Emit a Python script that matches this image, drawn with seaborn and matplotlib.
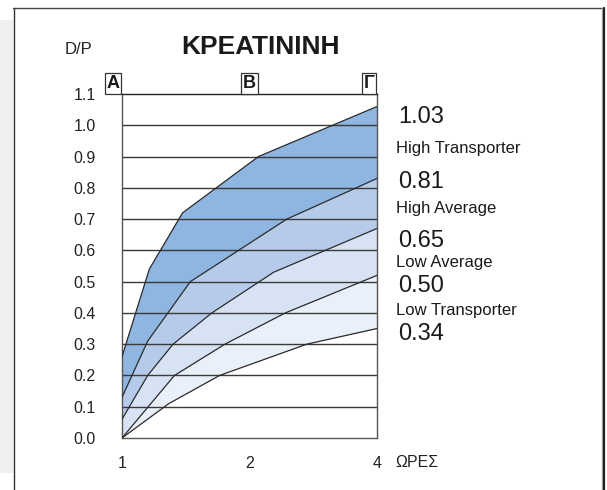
import matplotlib
matplotlib.use('Agg')
import matplotlib.pyplot as plt
import seaborn as sns
import pandas as pd
from matplotlib.lines import Line2D
from matplotlib.patches import Rectangle

# Creatinine D/P curves (hours vs D/P)
hours_high = [1, 1.16, 1.39, 2.10, 4]
dp_high = [0.26, 0.54, 0.72, 0.90, 1.06]
hours_high_avg = [1, 1.15, 1.45, 2.45, 4]
dp_high_avg = [0.13, 0.31, 0.50, 0.70, 0.83]
hours_low_avg = [1, 1.15, 1.32, 1.63, 2.28, 4]
dp_low_avg = [0.06, 0.20, 0.30, 0.40, 0.53, 0.67]
hours_low = [1, 1.33, 1.75, 2.43, 4]
dp_low = [0.0, 0.20, 0.30, 0.40, 0.52]
hours_min = [1, 1.29, 1.70, 2.73, 4]
dp_min = [0.0, 0.11, 0.20, 0.30, 0.35]

band_colors = ['#8fb5e1', '#b5cbe9', '#d7e3f4', '#e9f0f9']
x_ticks = [1, 2, 4]
y_ticks = [0.0, 0.1, 0.2, 0.3, 0.4, 0.5, 0.6, 0.7, 0.8, 0.9, 1.0, 1.1]
top_letters = ['Α', 'Β', 'Γ']
side_values = ['1.03', '0.81', '0.65', '0.50', '0.34']
side_names = ['High Transporter', 'High Average', 'Low Average', 'Low Transporter']

sns.set_theme(style='white')
plt.rcParams['font.family'] = ['Liberation Sans', 'DejaVu Sans']

W, H = 607, 490
fig = plt.figure(figsize=(W / 100, H / 100), dpi=100)
ax = fig.add_axes([122 / W, 52 / H, 255 / W, 344 / H])

curves = [(hours_high, dp_high), (hours_high_avg, dp_high_avg),
          (hours_low_avg, dp_low_avg), (hours_low, dp_low), (hours_min, dp_min)]

# shaded bands between neighbouring curves
for i in range(4):
    hx, hy = curves[i]
    lx, ly = curves[i + 1]
    ax.fill(list(hx) + list(lx)[::-1], list(hy) + list(ly)[::-1],
            color=band_colors[i], lw=0, zorder=1)

for yv in y_ticks[1:-1]:
    ax.axhline(yv, color='#3a3a3a', lw=1.0, zorder=2)

for hx, hy in curves:
    df = pd.DataFrame({'hours': hx, 'dp': hy})
    sns.lineplot(data=df, x='hours', y='dp', ax=ax, color='#2a2a2a', lw=0.9,
                 sort=False, estimator=None, zorder=3)

ax.set_xscale('log', base=2)
ax.set_xlim(1, 4)
ax.set_ylim(0, 1.1)
ax.set_xticks(x_ticks)
ax.set_xticklabels([str(v) for v in x_ticks])
ax.set_yticks(y_ticks)
ax.set_yticklabels([f'{v:.1f}' for v in y_ticks])
ax.minorticks_off()
ax.tick_params(axis='y', length=0, pad=19, labelsize=11.5, labelcolor='#222222')
ax.tick_params(axis='x', length=0, pad=13, labelsize=11.5, labelcolor='#222222')
ax.set_xlabel('')
ax.set_ylabel('')
for s in ax.spines.values():
    s.set_color('#555555')
    s.set_linewidth(1.0)
ax.spines['top'].set_color('#222222')

# boxed letters sitting on the top edge
for xv, letter, ha in zip(x_ticks, top_letters, ['right', 'center', 'right']):
    ax.annotate(letter, xy=(xv, 1.1), xycoords='data',
                xytext=(-1.8 if ha == 'right' else 0, 1.6), textcoords='offset points',
                ha=ha, va='bottom', fontsize=13, fontweight='bold', color='#1a1a1a',
                bbox=dict(boxstyle='square,pad=0.1', fc='white', ec='#333333', lw=0.9),
                annotation_clip=False)

def fy(py):
    return 1 - py / H

fig.text(181 / W, fy(47), 'ΚΡΕΑΤΙΝΙΝΗ', fontsize=19, fontweight='bold',
         color='#1a1a1a', va='center', ha='left')
fig.text(65 / W, fy(50), 'D/P', fontsize=12, color='#222222', va='center', ha='left')
fig.text(395 / W, fy(462), 'ΩΡΕΣ', fontsize=11.5, color='#222222', va='center', ha='left')

value_y = [117, 182, 241, 286, 334]
name_y = [149, 209, 262, 310]
for txt, py in zip(side_values, value_y):
    fig.text(398 / W, fy(py), txt, fontsize=17, color='#1a1a1a', va='center', ha='left')
for txt, py in zip(side_names, name_y):
    fig.text(396 / W, fy(py), txt, fontsize=12, color='#1a1a1a', va='center', ha='left')

# page frame
fig.patches.append(Rectangle((0, fy(473)), 13 / W, (473 - 20) / H,
                             transform=fig.transFigure, fc='#eff0f2', ec='none', zorder=0))
fig.lines.append(Line2D([13.5 / W, 13.5 / W], [fy(8), 0], transform=fig.transFigure,
                        color='#333333', lw=1.0))
fig.lines.append(Line2D([13 / W, 604 / W], [fy(8), fy(8)], transform=fig.transFigure,
                        color='#444444', lw=1.0))
fig.lines.append(Line2D([602 / W, 602 / W], [fy(8), 0], transform=fig.transFigure,
                        color='#aaaaaa', lw=1.0))
fig.lines.append(Line2D([604 / W, 604 / W], [fy(8), 0], transform=fig.transFigure,
                        color='#222222', lw=1.6))

fig.savefig('out.png', dpi=100)
plt.close(fig)
